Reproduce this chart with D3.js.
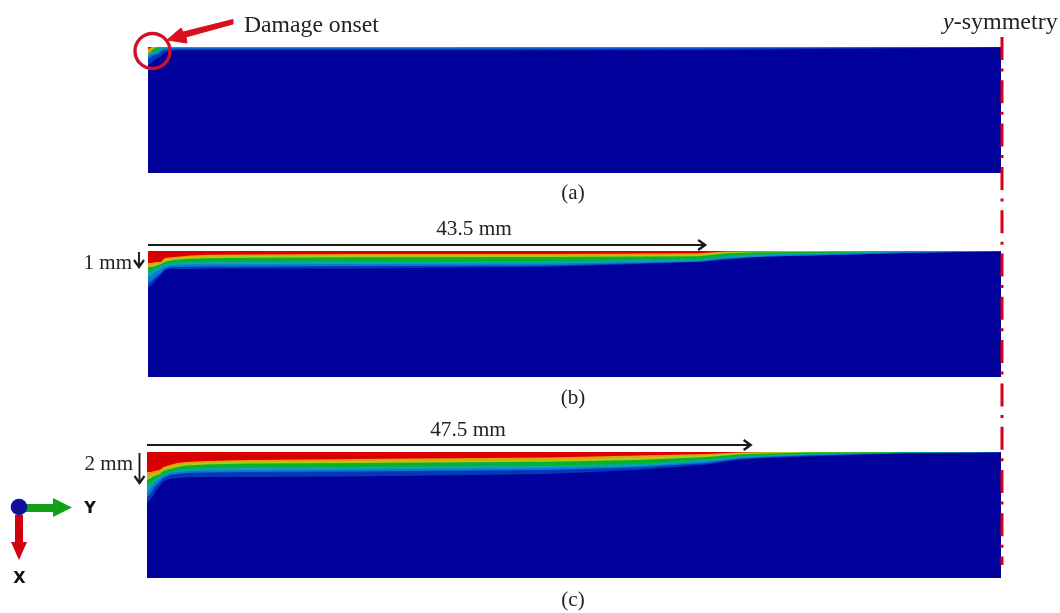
<!DOCTYPE html>
<html><head><meta charset="utf-8">
<script src="https://cdnjs.cloudflare.com/ajax/libs/d3/7.8.5/d3.min.js"></script>
<style>html,body{margin:0;padding:0;background:#fff}svg{display:block;filter:blur(.55px)}text{font-family:"Liberation Serif",serif;fill:#222}</style>
</head><body><svg id="c" width="1060" height="613"></svg>
<script>
// Contour legend, from the band nearest the surface to the deepest one
const bandNames = ["red","orange","yellow","green","teal","lightBlue","blue"];
const bandColors = ["#d80000","#ee9a0c","#a4cc18","#0cb030","#08a8a4","#0a78dc","#0636b8"];
const bulkColor = "#00009a";

// Panel (a): lower edge of every band in mm, read along the top surface
const stationsA = [0,.16,.31,.55,.78,1.1,1.4,1.7,2.3,4.7,23.4,43,54.7,66.6];
const redA    = [.13,.07,0,0,0,0,0,0,0,0,0,0,0,0];
const orangeA = [.4,.33,.07,0,0,0,0,0,0,0,0,0,0,0];
const yellowA = [.43,.37,.2,.07,0,0,0,0,0,0,0,0,0,0];
const greenA  = [.47,.43,.37,.3,.2,0,0,0,0,0,0,0,0,0];
const tealA   = [.6,.53,.47,.43,.33,.1,.08,.07,.07,.07,.06,.05,.02,0];
const lightA  = [.8,.73,.6,.53,.47,.27,.17,.13,.12,.12,.12,.1,.05,0];
const blueA   = [1.2,1.13,1,.87,.73,.53,.33,.25,.22,.22,.22,.2,.12,.03];

// Panel (b)
const stationsB = [0,.3,.6,1,1.3,1.6,2,2.5,3.3,4.7,7.8,16,31,43,45,47,50,55,59,66.6];
const redB    = [.8,.8,.73,.73,.47,.43,.4,.37,.3,.25,.23,.2,.2,.15,.04,.02,0,0,0,0];
const orangeB = [.93,.93,.87,.8,.6,.53,.5,.47,.42,.36,.33,.3,.3,.25,.08,.04,.01,0,0,0];
const yellowB = [1.07,1.07,1,.87,.73,.67,.6,.57,.52,.48,.45,.42,.4,.35,.17,.1,.07,.03,0,0];
const greenB  = [1.4,1.27,1.13,1,.87,.8,.77,.75,.74,.72,.7,.68,.66,.56,.35,.25,.18,.1,.03,0];
const tealB   = [1.73,1.6,1.4,1.2,1.03,.97,.93,.92,.9,.88,.88,.87,.85,.66,.47,.37,.27,.17,.07,0];
const lightB  = [2.2,2,1.73,1.47,1.2,1.1,1.07,1.06,1.05,1.03,1.03,1,.97,.71,.53,.41,.33,.23,.13,.01];
const blueB   = [2.47,2.25,1.95,1.6,1.27,1.22,1.2,1.2,1.2,1.17,1.17,1.17,1.07,.73,.6,.43,.33,.23,.13,.03];

// Panel (c)
const stationsC = [0,.3,.6,1,1.3,1.8,2.4,3.1,4.7,7.9,16.1,31.5,38.6,44.1,46.5,48.8,52,59.8,67.2];
const redC    = [1.33,1.33,1.27,1.2,1,.87,.73,.67,.6,.53,.47,.37,.23,.13,.03,0,0,0,0];
const orangeC = [1.6,1.6,1.47,1.33,1.13,1,.87,.77,.7,.63,.6,.53,.37,.2,.07,.02,0,0,0];
const yellowC = [1.87,1.73,1.6,1.47,1.27,1.13,1,.9,.83,.77,.73,.65,.53,.33,.17,.1,.04,0,0];
const greenC  = [2.2,2.07,1.8,1.6,1.47,1.33,1.2,1.13,1.07,1.03,1,.9,.8,.5,.3,.2,.13,.02,0];
const tealC   = [2.67,2.4,2.07,1.8,1.6,1.4,1.33,1.27,1.23,1.2,1.17,1.07,.93,.63,.4,.3,.2,.05,0];
const lightC  = [3.07,2.73,2.33,2,1.73,1.53,1.47,1.4,1.37,1.33,1.3,1.2,1.03,.73,.45,.33,.23,.07,.01];
const blueC   = [3.4,3.13,2.73,2.27,1.93,1.8,1.73,1.7,1.67,1.67,1.63,1.47,1.2,.83,.53,.4,.3,.09,.01];

const panelLabels = ["(a)","(b)","(c)"];
const crackLengths = [null,43.5,47.5];
const crackLabels = [null,"43.5 mm","47.5 mm"];
const depthValues = [null,1,2];
const depthLabels = [null,"1 mm","2 mm"];
const panelWidths = [66.6,66.6,67.2];
const panelDepth = 8.4;

const panels = [
  {st:stationsA,bands:[redA,orangeA,yellowA,greenA,tealA,lightA,blueA],x0:148,y0:47,lab:199,dimY:null},
  {st:stationsB,bands:[redB,orangeB,yellowB,greenB,tealB,lightB,blueB],x0:148,y0:251,lab:404,dimY:245,txtX:474,txtY:235,depthX:139,depthTxt:132,depthTxtY:269},
  {st:stationsC,bands:[redC,orangeC,yellowC,greenC,tealC,lightC,blueC],x0:147,y0:452,lab:606,dimY:445,txtX:468,txtY:436,depthX:139.5,depthTxt:133,depthTxtY:470}
];
const svg = d3.select("#c");

panels.forEach((p,i)=>{
  const x = d3.scaleLinear().domain([0,panelWidths[i]]).range([p.x0,1001]);
  const y = d3.scaleLinear().domain([0,panelDepth]).range([p.y0,p.y0+126]);
  const g = svg.append("g");
  g.append("rect").attr("x",x(0)).attr("y",y(0))
    .attr("width",x(panelWidths[i])-x(0)).attr("height",y(panelDepth)-y(0)).attr("fill",bulkColor);
  const area = d3.area().x((d,k)=>x(p.st[k])).y0(y(0)).y1(d=>y(d));
  for(let b=bandNames.length-1;b>=0;b--){
    g.append("path").datum(p.bands[b]).attr("d",area).attr("fill",bandColors[b]).attr("data-band",bandNames[b]);
  }
  svg.append("text").attr("x",573).attr("y",p.lab).attr("text-anchor","middle").attr("font-size",21).text(panelLabels[i]);
  if(crackLengths[i]!==null){
    const xe=x(crackLengths[i]);
    svg.append("line").attr("x1",x(0)).attr("x2",xe).attr("y1",p.dimY).attr("y2",p.dimY).attr("stroke","#1a1a1a").attr("stroke-width",1.8);
    svg.append("path").attr("d",d3.line()([[xe-7,p.dimY-5],[xe,p.dimY],[xe-7,p.dimY+5]])).attr("fill","none").attr("stroke","#1a1a1a").attr("stroke-width",2.4);
    svg.append("text").attr("x",p.txtX).attr("y",p.txtY).attr("text-anchor","middle").attr("font-size",21.3).text(crackLabels[i]);
    const yd=y(depthValues[i]);
    svg.append("line").attr("x1",p.depthX).attr("x2",p.depthX).attr("y1",y(0)+1).attr("y2",yd).attr("stroke","#1a1a1a").attr("stroke-width",1.9);
    svg.append("path").attr("d",d3.line()([[p.depthX-5,yd-6],[p.depthX,yd+1],[p.depthX+5,yd-6]])).attr("fill","none").attr("stroke","#1a1a1a").attr("stroke-width",2.2);
    svg.append("text").attr("x",p.depthTxt).attr("y",p.depthTxtY).attr("text-anchor","end").attr("font-size",21).text(depthLabels[i]);
  }
});

// annotation: onset circle and arrow
svg.append("circle").attr("cx",152.5).attr("cy",51).attr("r",17.5).attr("fill","none").attr("stroke","#d0102a").attr("stroke-width",3.4);
svg.append("path").attr("d","M233,19.5 L233,24 L186,37 L187,43 L167,40 L181,28 L183,32 Z").attr("fill","#d8101e").attr("stroke","#d8101e").attr("stroke-width",1).attr("stroke-linejoin","round");
svg.append("text").attr("x",244).attr("y",32).attr("font-size",23.7).text("Damage onset");

// symmetry line
svg.append("line").attr("x1",1002).attr("x2",1002).attr("y1",37).attr("y2",565)
  .attr("stroke","#d60018").attr("stroke-width",3).attr("stroke-dasharray","23 8.5 3 8.8");
const sym=svg.append("text").attr("x",943).attr("y",29).attr("font-size",24);
sym.append("tspan").attr("font-style","italic").text("y");
sym.append("tspan").text("-symmetry");

// triad
svg.append("path").attr("d","M25,504 H53 V498 L72,507.5 L53,517 V512 H25 Z").attr("fill","#12a018");
svg.append("path").attr("d","M15,515 V542 H11 L19,560 L27,542 H23 V515 Z").attr("fill","#d00010");
svg.append("circle").attr("cx",19).attr("cy",507).attr("r",8.3).attr("fill","#10109a");
svg.append("text").attr("x",90).attr("y",512.5).attr("text-anchor","middle").attr("font-size",16).attr("font-weight","bold").style("font-family","'DejaVu Sans',sans-serif").style("fill","#111").text("Y");
svg.append("text").attr("x",19.5).attr("y",583).attr("text-anchor","middle").attr("font-size",16).attr("font-weight","bold").style("font-family","'DejaVu Sans',sans-serif").style("fill","#111").text("X");
</script></body></html>
